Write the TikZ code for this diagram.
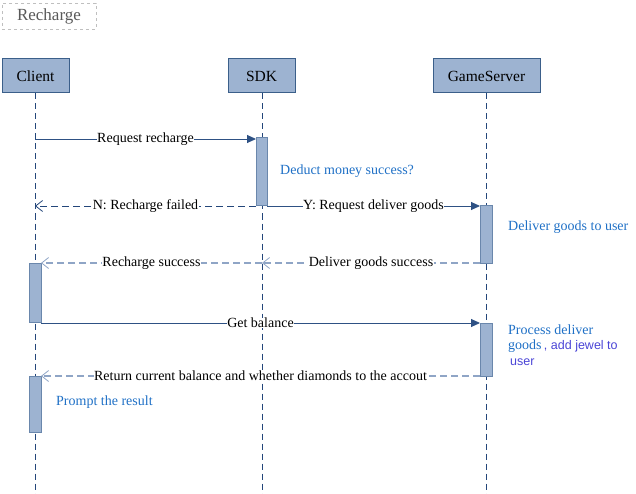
\documentclass[tikz,border=0pt]{standalone}
\usepackage{fontspec}
\setmainfont{Liberation Serif}
\newfontfamily\notesans{Liberation Sans}
\usetikzlibrary{arrows.meta}
\definecolor{boxfill}{HTML}{9DB3D1}
\definecolor{boxline}{HTML}{3B5F8A}
\definecolor{actline}{HTML}{6A87AC}
\definecolor{lifeline}{HTML}{23467A}
\definecolor{msgline}{HTML}{2E5184}
\definecolor{retline}{HTML}{8FA5C6}
\definecolor{notecol}{HTML}{1F70C6}
\definecolor{notepurple}{HTML}{4A44D6}
\definecolor{titlegray}{HTML}{595959}
\tikzset{
  x=1pt, y=-1pt,
  every node/.style={font=\fontsize{14}{16}\selectfont},
  actor/.style={draw=boxline, fill=boxfill, line width=1pt, minimum width=67pt, minimum height=34pt, inner sep=0pt, font=\fontsize{15.5}{17}\selectfont},
  actbar/.style={draw=actline, fill=boxfill, line width=1pt},
  life/.style={draw=lifeline, dash pattern=on 6pt off 4pt, line width=0.8pt},
  msg/.style={draw=msgline, line width=0.9pt, -{Triangle[length=9pt,width=8pt]}},
  ret/.style={draw=retline, line width=1.2pt, dash pattern=on 7pt off 4pt, -{Straight Barb[length=7pt,width=11pt,line width=0.8pt]}},
  retdark/.style={draw=lifeline, line width=0.8pt, dash pattern=on 7pt off 4pt, -{Straight Barb[length=7pt,width=11pt,line width=0.8pt]}},
  lbl/.style={fill=white, inner sep=0.5pt},
  note/.style={text=notecol, anchor=west, inner sep=0pt},
}
\begin{document}
\begin{tikzpicture}
\useasboundingbox (0,0) rectangle (636,494);
% title
\node[draw=black!25, dashed, line width=0.8pt, minimum width=94pt, minimum height=26pt, text=titlegray, font=\fontsize{17}{19}\selectfont] (title) at (49,16) {Recharge};
% actors
\node[actor] (client) at (35.5,76) {Client};
\node[actor] (sdk) at (261.5,76) {SDK};
\node[actor, minimum width=107pt] (gs) at (486.5,76) {GameServer};
\coordinate (clientEnd) at (35,494);
\coordinate (sdkEnd) at (262,494);
\coordinate (gsEnd) at (486,494);
\draw[life] (client.south -| clientEnd) -- (clientEnd);
\draw[life] (sdk.south -| sdkEnd) -- (sdkEnd);
\draw[life] (gs.south -| gsEnd) -- (gsEnd);
% activation bars
\path[actbar] (256,138) rectangle (267,206);
\coordinate (sdkA1) at (256,139);
\coordinate (sdkA1b) at (267,206);
\path[actbar] (480,206) rectangle (492,263);
\coordinate (gsA1) at (480,206);
\coordinate (gsA1b) at (480,263);
\path[actbar] (29,263) rectangle (41,322);
\coordinate (clA1) at (41,263);
\coordinate (clA1b) at (41,323);
\path[actbar] (480,323) rectangle (492,376);
\coordinate (gsA2) at (480,323);
\coordinate (gsA2b) at (480,376);
\path[actbar] (29,376) rectangle (41,432);
\coordinate (clA2) at (41,376);
% points on lifelines
\coordinate (cl139) at (35,139);
\coordinate (cl206) at (35,206);
\coordinate (sdk263) at (262,263);
% messages
\draw[msg] (cl139) -- node[lbl] {Request recharge} (sdkA1);
\node[note] (n1) at (280,171) {Deduct money success?};
\draw[retdark] (256,206) -- node[lbl, pos=0.5] {N: Recharge failed} (cl206);
\draw[msg] (sdkA1b) -- node[lbl] {Y: Request deliver goods} (gsA1);
\node[note] (n2) at (508,227) {Deliver goods to user};
\draw[ret] (gsA1b) -- node[lbl] {Deliver goods success} (sdk263);
\draw[ret] (sdk263) -- node[lbl] {Recharge success} (clA1);
\draw[msg] (clA1b) -- node[lbl] {Get balance} (gsA2);
\node[note] (n3a) at (508,330) {Process deliver};
\node[note] (n3b) at (508,346) {goods\,{\notesans\fontsize{12.5}{14}\selectfont\color{notepurple} , add jewel to}};
\node[note, text=notepurple, font=\notesans\fontsize{12.5}{14}\selectfont] (n3c) at (510,362) {user};
\draw[ret] (gsA2b) -- node[lbl] {Return current balance and whether diamonds to the accout} (clA2);
\node[note] (n4) at (56,402) {Prompt the result};
\end{tikzpicture}
\end{document}
